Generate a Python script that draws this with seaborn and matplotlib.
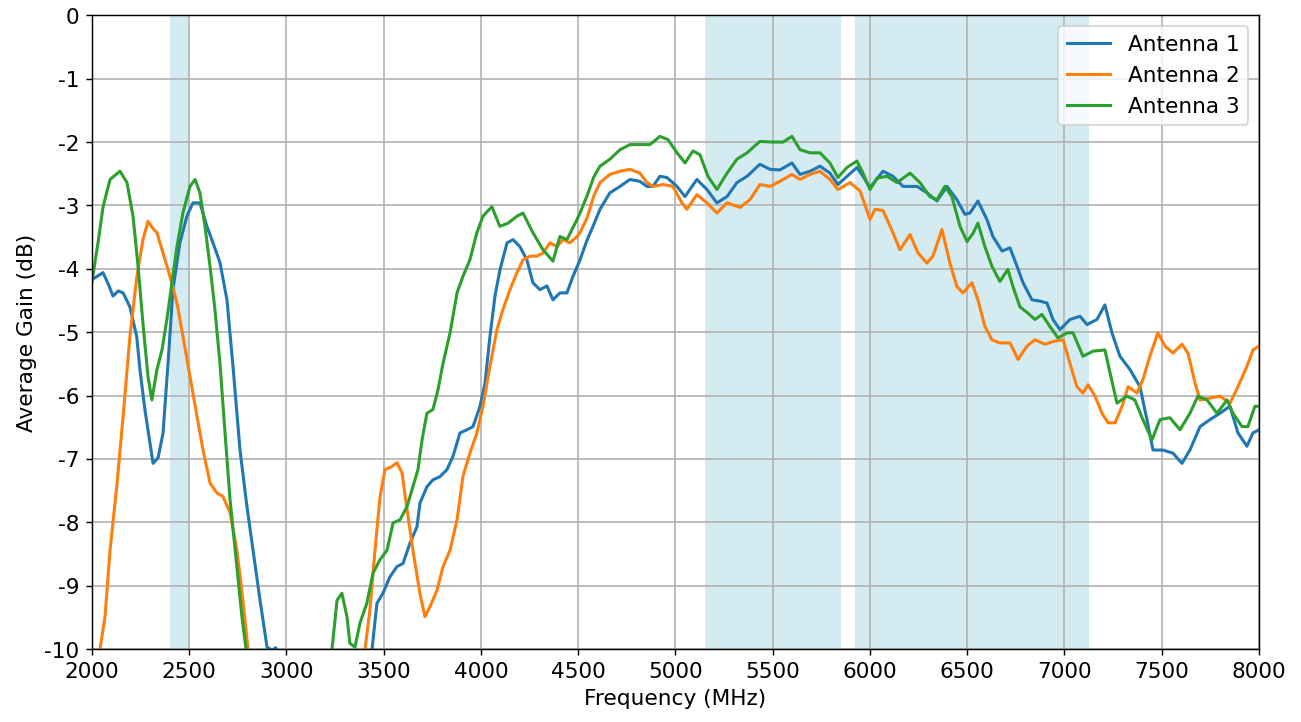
#Average gain of the three antennas vs frequency
import numpy as np
import pandas as pd
import matplotlib
matplotlib.use('Agg')
import matplotlib.pyplot as plt
import seaborn as sns

#Data (values below -10 dB run off the axis)
freq_1 = [2000, 2057, 2085, 2108, 2135, 2160, 2195, 2230, 2247, 2272, 2298, 2314, 2340, 2365, 2390,
          2416, 2452, 2488, 2519, 2555, 2591, 2622, 2658, 2694, 2725, 2761, 2797, 2828, 2864, 2900,
          2925, 2945, 2970, 3050, 3380, 3425, 3440, 3465, 3496, 3532, 3568, 3599, 3635, 3671, 3686,
          3722, 3753, 3789, 3825, 3856, 3892, 3928, 3959, 3995, 4021, 4046, 4072, 4098, 4134, 4165,
          4200, 4236, 4267, 4303, 4339, 4370, 4406, 4442, 4473, 4509, 4545, 4580, 4612, 4663, 4715,
          4766, 4817, 4853, 4884, 4920, 4956, 5008, 5049, 5110, 5162, 5213, 5265, 5316, 5368, 5434,
          5486, 5537, 5599, 5640, 5692, 5743, 5794, 5835, 5882, 5933, 5964, 6000, 6067, 6118, 6170,
          6242, 6293, 6344, 6396, 6447, 6488, 6514, 6555, 6601, 6632, 6679, 6720, 6756, 6787, 6833,
          6874, 6910, 6941, 6977, 7028, 7080, 7116, 7167, 7208, 7244, 7285, 7337, 7388, 7424, 7455,
          7506, 7558, 7604, 7645, 7697, 7748, 7799, 7851, 7892, 7938, 7969, 8000]
gain_1 = [-4.17, -4.06, -4.25, -4.43, -4.35, -4.38, -4.60, -5.07, -5.60, -6.22, -6.75, -7.07, -6.98, -6.60, -5.54,
          -4.33, -3.59, -3.17, -2.96, -2.96, -3.33, -3.59, -3.90, -4.49, -5.54, -6.86, -7.76, -8.44, -9.23, -9.97,
          -10.02, -9.98, -10.6, -12.0, -12.0, -10.4, -10.0, -9.28, -9.12, -8.86, -8.70, -8.65, -8.33, -8.07, -7.70,
          -7.44, -7.33, -7.28, -7.17, -6.96, -6.59, -6.54, -6.49, -6.17, -5.80, -5.07, -4.43, -4.01, -3.59, -3.54,
          -3.65, -3.86, -4.22, -4.33, -4.27, -4.49, -4.38, -4.38, -4.12, -3.86, -3.55, -3.30, -3.06, -2.80, -2.70,
          -2.59, -2.62, -2.70, -2.70, -2.54, -2.56, -2.70, -2.86, -2.59, -2.75, -2.96, -2.86, -2.64, -2.54, -2.35,
          -2.43, -2.44, -2.33, -2.51, -2.46, -2.38, -2.49, -2.67, -2.54, -2.40, -2.54, -2.72, -2.46, -2.54, -2.70,
          -2.70, -2.80, -2.93, -2.70, -2.91, -3.14, -3.12, -2.93, -3.22, -3.49, -3.72, -3.67, -3.96, -4.22, -4.49,
          -4.51, -4.54, -4.80, -4.96, -4.80, -4.75, -4.88, -4.80, -4.57, -5.01, -5.38, -5.59, -5.86, -6.38, -6.86,
          -6.86, -6.91, -7.07, -6.86, -6.49, -6.38, -6.28, -6.17, -6.59, -6.80, -6.59, -6.54]

freq_2 = [2025, 2041, 2067, 2093, 2129, 2160, 2195, 2231, 2262, 2288, 2310, 2334, 2365, 2401, 2437,
          2468, 2504, 2540, 2571, 2607, 2643, 2673, 2710, 2745, 2776, 2802, 2830, 2900, 3350, 3390,
          3404, 3429, 3455, 3481, 3506, 3542, 3568, 3594, 3620, 3650, 3686, 3712, 3738, 3774, 3805,
          3841, 3877, 3907, 3943, 3979, 4010, 4046, 4082, 4113, 4149, 4185, 4216, 4252, 4288, 4319,
          4355, 4391, 4422, 4457, 4494, 4509, 4545, 4580, 4612, 4663, 4715, 4766, 4817, 4853, 4884,
          4936, 4987, 5033, 5059, 5110, 5162, 5213, 5265, 5332, 5383, 5434, 5486, 5537, 5599, 5640,
          5692, 5743, 5794, 5835, 5897, 5949, 6000, 6026, 6067, 6118, 6154, 6206, 6247, 6293, 6324,
          6370, 6411, 6447, 6478, 6524, 6555, 6591, 6627, 6668, 6720, 6761, 6807, 6848, 6900, 6951,
          6993, 7028, 7064, 7095, 7121, 7157, 7193, 7224, 7260, 7296, 7327, 7373, 7403, 7439, 7480,
          7517, 7558, 7604, 7635, 7671, 7697, 7748, 7799, 7851, 7892, 7938, 7969, 8000]
gain_2 = [-11.0, -10.0, -9.49, -8.44, -7.38, -6.33, -5.07, -4.12, -3.54, -3.25, -3.35, -3.43, -3.75, -4.12, -4.54,
          -5.07, -5.70, -6.33, -6.86, -7.38, -7.54, -7.59, -7.85, -8.44, -9.23, -10.0, -11.0, -12.0, -12.0, -10.6,
          -10.0, -9.38, -8.44, -7.60, -7.17, -7.12, -7.06, -7.22, -7.80, -8.44, -9.12, -9.49, -9.33, -9.07, -8.70,
          -8.44, -7.96, -7.28, -6.91, -6.59, -6.17, -5.54, -4.96, -4.64, -4.33, -4.06, -3.86, -3.80, -3.80, -3.75,
          -3.59, -3.65, -3.54, -3.59, -3.49, -3.43, -3.20, -2.85, -2.64, -2.51, -2.46, -2.43, -2.49, -2.64, -2.70,
          -2.67, -2.70, -2.96, -3.06, -2.83, -2.96, -3.12, -2.96, -3.03, -2.91, -2.67, -2.70, -2.62, -2.51, -2.59,
          -2.51, -2.46, -2.59, -2.75, -2.64, -2.77, -3.22, -3.06, -3.08, -3.43, -3.70, -3.46, -3.75, -3.91, -3.80,
          -3.38, -3.91, -4.28, -4.38, -4.22, -4.49, -4.91, -5.12, -5.17, -5.17, -5.43, -5.22, -5.12, -5.19, -5.14,
          -5.12, -5.49, -5.86, -5.96, -5.83, -6.01, -6.28, -6.43, -6.43, -6.17, -5.86, -5.96, -5.75, -5.38, -5.01,
          -5.22, -5.33, -5.19, -5.33, -5.80, -6.07, -6.04, -6.01, -6.12, -5.86, -5.54, -5.28, -5.22]

freq_3 = [2000, 2031, 2057, 2093, 2144, 2180, 2211, 2237, 2262, 2288, 2308, 2334, 2360, 2385, 2411,
          2437, 2468, 2504, 2530, 2555, 2581, 2607, 2632, 2658, 2684, 2710, 2745, 2771, 2792, 2820,
          2900, 3180, 3220, 3234, 3260, 3285, 3311, 3326, 3352, 3378, 3413, 3445, 3481, 3517, 3548,
          3584, 3620, 3650, 3676, 3697, 3722, 3753, 3779, 3805, 3841, 3877, 3907, 3943, 3979, 4010,
          4056, 4097, 4139, 4185, 4216, 4267, 4319, 4370, 4406, 4442, 4494, 4509, 4545, 4580, 4612,
          4663, 4715, 4766, 4817, 4869, 4920, 4961, 5008, 5049, 5090, 5126, 5167, 5213, 5265, 5316,
          5368, 5434, 5501, 5553, 5599, 5640, 5692, 5743, 5794, 5835, 5882, 5933, 5964, 6000, 6036,
          6087, 6139, 6206, 6257, 6308, 6344, 6385, 6421, 6463, 6499, 6530, 6555, 6591, 6627, 6668,
          6709, 6735, 6771, 6812, 6848, 6884, 6925, 6967, 7013, 7044, 7095, 7147, 7208, 7234, 7270,
          7321, 7362, 7403, 7450, 7491, 7542, 7594, 7645, 7686, 7733, 7784, 7836, 7866, 7913, 7943,
          7979, 8000]
gain_3 = [-4.20, -3.59, -3.02, -2.59, -2.46, -2.64, -3.17, -3.96, -4.86, -5.70, -6.07, -5.59, -5.28, -4.80, -4.22,
          -3.65, -3.11, -2.70, -2.59, -2.80, -3.33, -3.96, -4.64, -5.49, -6.59, -7.65, -8.70, -9.49, -10.0, -11.0,
          -12.0, -12.0, -10.5, -10.0, -9.23, -9.12, -9.49, -9.91, -9.97, -9.59, -9.28, -8.80, -8.59, -8.44, -8.01,
          -7.96, -7.75, -7.44, -7.17, -6.70, -6.28, -6.22, -5.91, -5.49, -5.01, -4.38, -4.12, -3.86, -3.43, -3.17,
          -3.02, -3.33, -3.28, -3.17, -3.12, -3.43, -3.70, -3.88, -3.49, -3.54, -3.22, -3.12, -2.85, -2.55, -2.38,
          -2.27, -2.12, -2.04, -2.04, -2.04, -1.91, -1.96, -2.17, -2.33, -2.14, -2.20, -2.54, -2.75, -2.49, -2.27,
          -2.17, -1.99, -2.00, -2.00, -1.91, -2.12, -2.17, -2.17, -2.33, -2.56, -2.40, -2.30, -2.49, -2.75, -2.57,
          -2.54, -2.64, -2.49, -2.64, -2.86, -2.91, -2.70, -2.86, -3.33, -3.57, -3.44, -3.28, -3.65, -3.96, -4.20,
          -4.01, -4.28, -4.60, -4.70, -4.80, -4.72, -4.91, -5.09, -5.01, -5.01, -5.38, -5.30, -5.28, -5.64, -6.12,
          -6.01, -6.07, -6.38, -6.70, -6.38, -6.35, -6.54, -6.28, -6.01, -6.07, -6.28, -6.07, -6.28, -6.49, -6.49,
          -6.17, -6.17]

bands = [(2400, 2500), (5150, 5850), (5925, 7125)]

df = pd.concat([
    pd.DataFrame({'Frequency': freq_1, 'Gain': gain_1, 'Antenna': 'Antenna 1'}),
    pd.DataFrame({'Frequency': freq_2, 'Gain': gain_2, 'Antenna': 'Antenna 2'}),
    pd.DataFrame({'Frequency': freq_3, 'Gain': gain_3, 'Antenna': 'Antenna 3'}),
], ignore_index=True)

plt.rcParams['axes.unicode_minus'] = False
plt.rc('font', size=12)
plt.rc('axes', labelsize=12)
plt.rc('xtick', labelsize=12)
plt.rc('ytick', labelsize=12)
plt.rc('legend', fontsize=12)

fig, ax = plt.subplots(figsize=(10.0, 5.554), dpi=130.1)
fig.subplots_adjust(left=0.0707, right=0.9677, top=0.978, bottom=0.101)

for lo, hi in bands:
    ax.axvspan(lo, hi, color='lightblue', alpha=0.5, lw=0)

sns.lineplot(data=df, x='Frequency', y='Gain', hue='Antenna', estimator=None, sort=False,
             palette=['#1f77b4', '#ff7f0e', '#2ca02c'], linewidth=1.7, ax=ax)

ax.set_xlim(2000, 8000)
ax.set_ylim(-10, 0)
ax.set_xticks(np.arange(2000, 8001, 500))
ax.set_yticks(np.arange(-10, 1, 1))
ax.grid(True, color='#b0b0b0', linewidth=0.9)
ax.set_xlabel('Frequency (MHz)')
ax.set_ylabel('Average Gain (dB)')
sns.move_legend(ax, 'upper right', title=None)

plt.savefig('out.png')
